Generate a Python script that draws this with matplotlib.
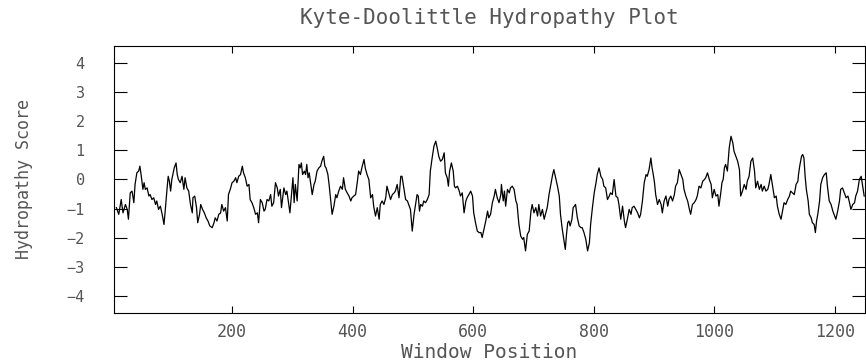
import matplotlib.pyplot as plt

# Window positions
pos = [8, 12, 16, 19, 23, 26, 28, 31, 34, 37, 39, 42, 45, 47, 49, 52, 54, 56, 59, 62, 64, 67, 70, 73, 75, 78, 81, 84, 87, 89,
       92, 94, 96, 98, 100, 104, 107, 109, 111, 114, 117, 120, 122, 125, 128, 131, 134, 135, 138, 141, 143, 146, 148, 151,
       154, 157, 160, 163, 167, 170, 172, 175, 178, 181, 183, 186, 189, 192, 194, 197, 200, 203, 206, 208, 211, 214, 217,
       219, 222, 225, 228, 230, 233, 236, 239, 242, 244, 247,
       250, 253, 255, 258, 261, 264, 266, 269, 272, 275, 277, 280, 282, 284, 286, 289, 291, 294, 296, 299, 301, 303, 305,
       308, 311, 313, 315, 317, 320, 322, 324, 326, 328, 331, 333, 336, 338, 341, 344, 347, 349, 352, 354, 356, 359, 361,
       363, 366, 369, 372, 374, 377, 380, 383, 385, 388, 391, 394, 397, 399, 402, 405, 408, 410, 413, 416, 419, 421, 424,
       427, 430, 433, 435, 438, 441, 444, 446, 449, 452, 455, 457, 460, 463, 466, 469, 471, 474, 477, 480, 482, 485, 488,
       491, 493, 496, 499,
       502, 505, 507, 509, 511, 513, 516, 518, 521, 524, 527, 529, 532, 535, 538, 541, 543, 546, 549, 552, 554, 557, 559,
       561, 564, 567, 569, 571, 574, 577, 579, 582, 585, 588, 590, 593, 596, 599, 601, 604, 607, 610, 613, 615, 618, 621,
       624, 626, 629, 632, 635, 637, 640, 643, 646, 647, 650, 652, 654, 657, 660, 662, 665, 668, 671, 673, 676, 679, 682,
       684, 687, 690, 693, 696, 698, 701, 704, 707, 709, 712, 715, 718, 720, 723, 726, 729, 732, 734, 737, 740, 743, 745,
       748, 751, 753, 755, 757, 759, 761, 764, 766, 768, 770, 773, 776, 779, 781, 784, 787, 790, 793, 795, 798, 801, 804,
       806, 809, 812, 815, 817, 820, 823, 826, 828, 831, 834, 837, 840, 842, 845, 848, 851, 853, 856, 859, 862, 864, 867,
       870, 873, 876, 878, 881, 884, 887, 889, 892, 895, 897, 899, 901, 903, 906, 909, 912, 914, 917, 920, 923, 925, 928,
       931, 934, 936, 939, 942, 945, 948, 950, 953, 956, 959, 961, 964, 967, 970, 972, 975, 978, 981, 984, 986, 989, 992,
       995,
       997, 1000, 1003, 1006, 1008, 1011, 1013, 1015, 1017, 1019, 1022, 1025, 1028, 1031, 1033, 1036, 1039, 1042, 1044,
       1047, 1050, 1053, 1055, 1058, 1061, 1064, 1067, 1069, 1072, 1075, 1078, 1080, 1083, 1086, 1089, 1091, 1094, 1097,
       1100, 1103, 1105, 1108, 1111, 1114, 1116, 1119, 1122, 1125, 1127, 1130, 1133, 1136, 1139, 1140, 1142, 1145, 1147,
       1149, 1151, 1153, 1156, 1158, 1161, 1163, 1166, 1168, 1170, 1172, 1175, 1177, 1180, 1183, 1186, 1188, 1191, 1194,
       1197, 1199, 1202, 1205, 1208, 1210, 1213, 1216, 1219, 1222, 1224, 1227, 1230, 1233, 1235, 1238, 1241, 1244, 1246,
       1249]

# Kyte-Doolittle score at each position
score = [-0.97, -1.20, -0.69, -1.15, -0.86, -1.03, -1.37, -0.46, -0.40, -0.80, -0.17, 0.23, 0.29, 0.46, 0.17, -0.34,
         -0.11, -0.34, -0.29, -0.57, -0.52, -0.69, -0.63, -0.86, -0.74, -1.03, -0.92, -1.20, -1.55, -1.09, -0.34, 0.11,
         -0.06, -0.40, 0.00, 0.40, 0.57, 0.17, 0.00, -0.11, 0.11, -0.34, 0.06, -0.29, -0.40, -0.86, -1.15, -0.63, -0.57,
         -0.97, -1.49, -1.20, -0.86, -1.03, -1.15, -1.32, -1.43, -1.60, -1.66, -1.49, -1.32, -1.43, -1.20, -1.15, -0.86,
         -1.09, -0.97, -1.43, -0.52, -0.34, -0.11, -0.06, 0.06, -0.11, 0.11, 0.17, 0.46, 0.23, 0.06, -0.23, -0.17, -0.69,
         -0.80, -0.97, -1.20, -1.15, -1.49, -0.69,
         -0.80, -1.09, -1.03, -0.69, -0.74, -0.52, -0.92, -0.80, -0.11, -0.29, -0.57, -0.34, -0.97, -0.63, -0.29, -0.52,
         -0.40, -0.86, -1.15, -0.40, 0.06, -0.80, -0.17, -0.74, 0.52, 0.40, 0.57, 0.17, 0.29, 0.17, 0.52, 0.06, 0.23,
         -0.23, -0.52, -0.17, -0.06, 0.29, 0.40, 0.46, 0.63, 0.80, 0.46, 0.40, 0.17, -0.17, -0.57, -1.20, -0.92, -0.52,
         -0.63, -0.40, -0.23, -0.34, 0.06, -0.34, -0.46, -0.57, -0.74, -0.63, -0.57, -0.52, -0.06, 0.29, 0.17, 0.46, 0.69,
         0.40, 0.17, 0.00, -0.63, -0.52, -0.92, -1.26, -0.97, -1.37, -0.86, -0.74, -0.86, -0.63, -0.23, -0.46, -0.69,
         -0.52, -0.46, -0.40, -0.17, -0.63, 0.11, 0.11, -0.29, -0.69, -0.74, -0.86, -1.03, -1.78,
         -1.20, -0.80, -0.52, -0.57, -1.09, -0.86, -0.92, -0.74, -0.80, -0.69, -0.52, 0.29, 0.74, 1.15, 1.32, 1.03, 0.80,
         0.63, 0.69, 0.92, 0.23, 0.06, -0.23, 0.29, 0.57, 0.29, -0.23, -0.29, -0.23, -0.40, -0.57, -0.46, -1.15, -0.74,
         -0.63, -0.52, -0.40, -0.57, -1.15, -1.49, -1.78, -1.83, -1.83, -2.00, -1.72, -1.43, -1.09, -1.32, -1.20, -0.80,
         -0.57, -0.34, -0.63, -0.80, -0.52, -0.17, -0.74, -0.40, -0.92, -0.34, -0.46, -0.29, -0.23, -0.34, -0.74, -0.86,
         -1.55, -1.95, -2.06, -2.00, -2.46, -1.89, -1.78, -1.09, -0.86, -1.15, -0.97, -1.26, -0.86, -1.26, -1.03, -1.37,
         -1.20, -0.97, -0.52, -0.17, 0.17, 0.34, 0.06, -0.23, -0.57, -1.20,
         -1.72, -2.12, -2.41, -1.89, -1.49, -1.43, -1.60, -1.37, -0.97, -0.92, -0.86, -1.32, -1.60, -1.66, -1.66, -1.83,
         -2.06, -2.46, -2.18, -1.55, -0.97, -0.46, -0.11, 0.17, 0.40, 0.11, 0.00, -0.23, -0.29, -0.69, -0.57, -0.46,
         -0.52, 0.00, -0.57, -0.63, -0.86, -1.37, -0.92, -1.43, -1.66, -1.37, -1.03, -1.20, -0.97, -0.92, -1.03, -1.15,
         -1.32, -1.20, -0.74, -0.11, 0.17, 0.11, 0.34, 0.74, 0.40, 0.17, -0.11, -0.52, -0.86, -0.69, -0.86, -1.15, -0.74,
         -0.57, -0.92, -0.69, -0.57, -0.74, -0.52, -0.23, -0.11, 0.34, 0.17, 0.00, -0.34, -0.57, -0.74, -1.03, -1.20,
         -0.86, -0.80, -0.69, -0.57, -0.23, -0.29, -0.06, 0.00, 0.06, 0.23, 0.00, -0.17,
         -0.63, -0.34, -0.57, -0.52, -0.92, -0.46, -0.11, 0.00, 0.40, 0.52, 0.29, 1.09, 1.49, 1.26, 0.97, 0.80, 0.63,
         0.34, -0.57, -0.40, -0.17, -0.34, -0.06, 0.11, 0.63, 0.74, 0.29, -0.29, -0.06, -0.34, -0.17, -0.40, -0.23, -0.40,
         -0.34, -0.17, 0.17, -0.23, -0.63, -0.57, -0.92, -1.20, -1.37, -1.03, -0.80, -0.86, -0.69, -0.57, -0.40, -0.46,
         -0.52, -0.17, -0.06, 0.17, 0.46, 0.80, 0.86, 0.74, 0.11, -0.34, -0.74, -1.20, -1.32, -1.49, -1.55, -1.83, -1.43,
         -1.20, -0.74, -0.17, 0.06, 0.17, 0.23, -0.23, -0.74, -0.86, -1.09, -1.20, -1.37, -1.09, -0.74, -0.34, -0.29,
         -0.46, -0.63, -0.57, -0.74, -1.03, -0.86, -0.80, -0.57, -0.40, 0.00, 0.11, -0.17, -0.57]

xticks = [200, 400, 600, 800, 1000, 1200]
yticks = [-4, -3, -2, -1, 0, 1, 2, 3, 4]

fonte = 'DejaVu Sans Mono'
cor_txt = '#555555'

fig = plt.figure(figsize=(8.66, 3.61), dpi=100)
ax = fig.add_axes([0.1316, 0.133, 0.867, 0.7396])
ax.plot(pos, score, color='black', linewidth=0.9)

ax.set_xlim(4, 1250)
ax.set_ylim(-4.6, 4.6)
ax.set_xticks(xticks)
ax.set_yticks(yticks)
ax.tick_params(axis='x', direction='in', length=5, top=True, bottom=True, pad=7,
               labelsize=12, labelcolor=cor_txt)
ax.tick_params(axis='y', direction='in', length=9.5, left=True, right=True, pad=21,
               labelsize=11, labelcolor=cor_txt)
for lab in ax.get_xticklabels() + ax.get_yticklabels():
    lab.set_family(fonte)

for s in ax.spines.values():
    s.set_linewidth(0.8)

ax.set_title('Kyte-Doolittle Hydropathy Plot', fontsize=15, family=fonte, color=cor_txt, pad=16)
ax.set_xlabel('Window Position', fontsize=14, family=fonte, color=cor_txt, labelpad=2)
ax.set_ylabel('Hydropathy Score', fontsize=12, family=fonte, color=cor_txt, labelpad=24)
ax.grid(False)

plt.savefig('out.png', dpi=100)
